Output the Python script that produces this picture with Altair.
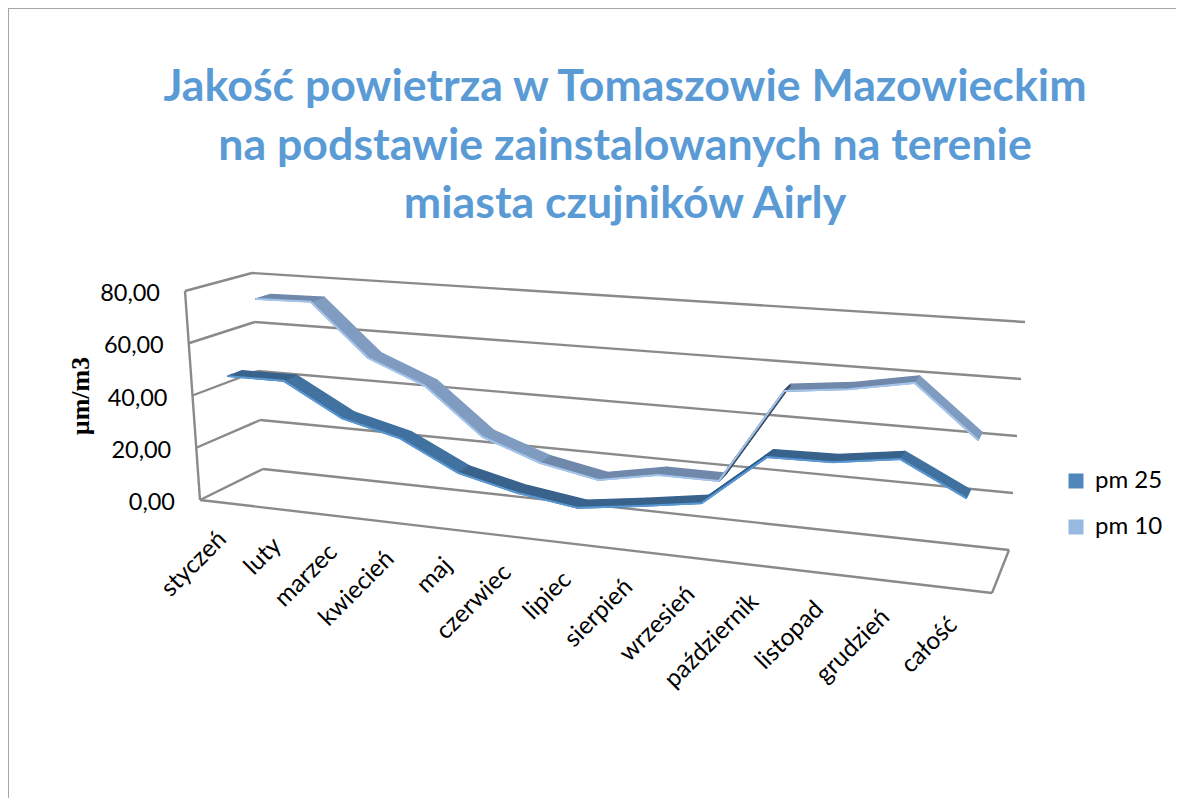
import altair as alt
import numpy as np
import pandas as pd

months = ["styczeń", "luty", "marzec", "kwiecień", "maj", "czerwiec", "lipiec",
          "sierpień", "wrzesień", "październik", "listopad", "grudzień", "całość"]
pm25 = [47.1, 47.2, 35.1, 29.7, 19.0, 14.0, 11.0, 14.0, 17.4, 35.7, 36.1, 39.3, 28.4]
pm10 = [73.0, 73.4, 53.1, 44.2, 26.7, 19.0, 14.9, 19.0, 19.0, 53.4, 55.9, 59.9, 42.0]
ticks = [0, 20, 40, 60, 80]
tick_labels = ["0,00", "20,00", "40,00", "60,00", "80,00"]
title_lines = ["Jakość powietrza w Tomaszowie Mazowieckim",
               "na podstawie zainstalowanych na terenie",
               "miasta czujników Airly"]
series_names = ["pm 25", "pm 10"]

W, H = 1168, 790
# projection of the 3D box: (f along months, d depth, w height) -> page pixels
corners = {(0,0,0): (200,500), (1,0,0): (992,593), (0,1,0): (263,469), (1,1,0): (1009,550),
           (0,0,1): (185,291), (1,0,1): (1010,350), (0,1,1): (252,273), (1,1,1): (1025,322)}
def proj(idx):
    terms = []
    for (a, b, c), p in corners.items():
        fa = "datum.f" if a else "(1-datum.f)"
        fb = "datum.d" if b else "(1-datum.d)"
        fc = "(datum.v/80)" if c else "(1-datum.v/80)"
        terms.append(f"{fa}*{fb}*{fc}*{p[idx]}")
    return "+".join(terms)

def place(chart):
    return (chart
        .transform_calculate(f="datum.t/(1.13-0.13*datum.t)")
        .transform_calculate(X=proj(0), Y=proj(1)))

X = alt.X("X:Q", scale=alt.Scale(domain=[8, 8 + W]), axis=None)
Y = alt.Y("Y:Q", scale=alt.Scale(domain=[8 + H, 8]), axis=None)

# box frame
frame_rows = []
def seg(name, a, b):
    for p in (a, b):
        frame_rows.append(dict(seg=name, t=p[0], d=p[1], v=p[2]))
for v in ticks:
    seg(f"back{v}", (0, 1, v), (1, 1, v))
    seg(f"wall{v}", (0, 0, v), (0, 1, v))
seg("edge", (0, 0, 0), (0, 0, 80))
seg("front", (0, 0, 0), (1, 0, 0))
seg("side", (1, 0, 0), (1, 1, 0))
frame = place(alt.Chart(pd.DataFrame(frame_rows)).mark_line(color="#8a8a8a", strokeWidth=2.4)
              ).encode(x=X, y=Y, detail="seg:N")

# ribbons: one strip per month-to-month segment, shaded by its slope
def ribbon(vals, d0, d1, steep, flat, rise, edge, n=12):
    rows = []
    m = len(vals)
    for k, d in enumerate(np.linspace(d0, d1, n)):
        for i in range(m - 1):
            fall = vals[i] - vals[i + 1]
            shade = steep if fall > 5 else (rise if fall < -10 else flat)
            for j in (i, i + 1):
                rows.append(dict(sid=k * 100 + i, lvl=k, i=j, shade=shade,
                                 t=(j + .5) / m, d=float(d), v=vals[j]))
    df = pd.DataFrame(rows)
    body = place(alt.Chart(df).mark_line(strokeWidth=1.7, strokeCap="round")
                 ).encode(x=X, y=Y, detail="sid:N", order="i:Q",
                          color=alt.Color("shade:N", scale=None))
    lip = df[df.lvl == 0].drop_duplicates("i")
    lipc = place(alt.Chart(lip).mark_line(color=edge, strokeWidth=2, strokeJoin="miter")
                 ).encode(x=X, y=Y, order="i:Q")
    return body + lipc

rib10 = ribbon(pm10, 0.64, 0.86, "#7f9bc0", "#7089ab", "#3e5068", "#a4c4ec")
rib25 = ribbon(pm25, 0.14, 0.36, "#40719f", "#39638c", "#2f5f8c", "#5a98d4")

# legend from the series colours
legend_df = pd.DataFrame([dict(series=s, t=.5, d=.5, v=20) for s in series_names])
leg = place(alt.Chart(legend_df).mark_square(size=1)).encode(
    x=X, y=Y,
    color=alt.Color("series:N",
        scale=alt.Scale(domain=series_names, range=["#4f87bb", "#98b9e0"]),
        legend=alt.Legend(orient="none", legendX=1056, legendY=461, title=None,
                          symbolType="square", symbolSize=225, symbolStrokeWidth=0,
                          labelFont="Lato", labelFontSize=24, labelColor="#000000",
                          rowPadding=22, labelOffset=7, symbolOpacity=1)))

# text
tick_df = pd.DataFrame(dict(t=0, d=0, v=ticks, label=tick_labels))
tick_text = place(alt.Chart(tick_df).mark_text(align="right", baseline="middle", dx=-25, dy=3,
                  font="Lato", fontSize=23.5, color="#000000")).encode(x=X, y=Y, text="label:N")

month_df = pd.DataFrame(dict(t=[(i + .5) / len(months) for i in range(len(months))], d=0, v=0, label=months))
month_text = place(alt.Chart(month_df).mark_text(align="right", baseline="middle", angle=315, dx=-26, dy=20,
                   font="Lato", fontSize=24.5, color="#000000")).encode(x=X, y=Y, text="label:N")

title_df = pd.DataFrame(dict(label=title_lines, row=[0, 1, 2]))
title = alt.Chart(title_df).mark_text(align="center", baseline="middle", font="Lato", fontWeight="bold",
                                      fontSize=44.7, color="#5b9bd5").encode(
    x=alt.value(617), y=alt.Y("row:Q", scale=alt.Scale(domain=[0, 1], range=[80, 138.5]), axis=None),
    text="label:N")

ytitle = alt.Chart(pd.DataFrame(dict(label=["µm/m3"]))).mark_text(
    angle=270, font="Liberation Serif", fontWeight="bold", fontSize=26, color="#000000").encode(
    x=alt.value(73), y=alt.value(388), text="label:N")

bd = "#a6a6a6"
bt = alt.Chart(pd.DataFrame(dict(a=[0]))).mark_rule(color=bd, strokeWidth=2).encode(
    x=alt.value(0), x2=alt.value(W), y=alt.value(0))
bl = alt.Chart(pd.DataFrame(dict(a=[0]))).mark_rule(color=bd, strokeWidth=2).encode(
    x=alt.value(0), y=alt.value(0), y2=alt.value(H))

chart = alt.layer(bt, bl, leg, frame, rib10, rib25, tick_text, month_text, title, ytitle).resolve_scale(
    x="shared", y="independent"
).properties(width=W, height=H, padding=0, autosize="none", background="white"
).configure_view(stroke=None)

chart.save("out.html", embed_options={"renderer": "svg", "actions": False})
